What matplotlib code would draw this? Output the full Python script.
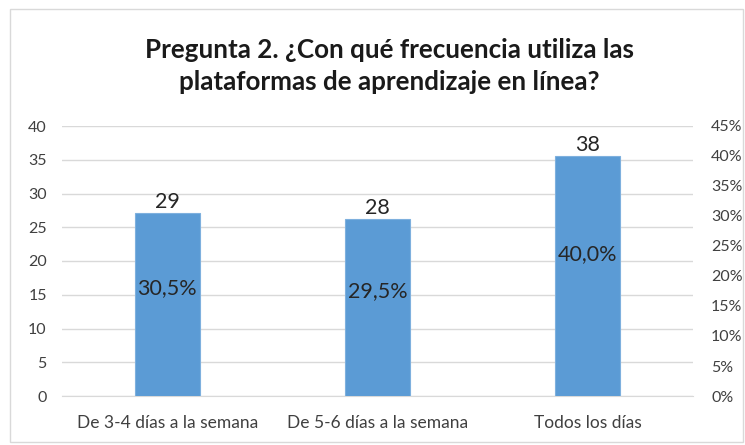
import numpy as np
import matplotlib.pyplot as plt

# datos
categorias = ["De 3-4 días a la semana", "De 5-6 días a la semana", "Todos los días"]
conteos = [29, 28, 38]
porcentajes = [30.5, 29.5, 40.0]
etiquetas_pct = ["30,5%", "29,5%", "40,0%"]

plt.rcParams['font.family'] = ['Lato', 'DejaVu Sans']

fig = plt.figure(figsize=(7.45, 4.45), dpi=100)
# borde del gráfico
fig.patches.append(plt.Rectangle((10 / 745, 3 / 445), 733 / 745, 433 / 445,
                                 transform=fig.transFigure, fill=False,
                                 edgecolor="#D9D9D9", linewidth=1))

ax = fig.add_axes([62 / 745, 49 / 445, 631 / 745, 270 / 445])
ax2 = ax.twinx()

x = np.arange(len(categorias))
ax2.bar(x, porcentajes, width=0.31, color="#5B9BD5", edgecolor="#7EB0DE",
        linewidth=0.8, zorder=3)

ax.set_ylim(0, 40)
ax.set_yticks(np.arange(0, 41, 5))
ax2.set_ylim(0, 45)
ax2.set_yticks(np.arange(0, 46, 5))
ax2.set_yticklabels([f"{v}%" for v in range(0, 46, 5)])
ax.set_xlim(-0.5, 2.5)
ax.set_xticks(x)
ax.set_xticklabels(categorias)

ax.grid(axis="y", color="#D9D9D9", linewidth=1)
ax.set_axisbelow(True)
for a in (ax, ax2):
    for s in a.spines.values():
        s.set_visible(False)
    a.tick_params(length=0, labelsize=11.5, colors="#404040")
ax.tick_params(axis="y", pad=11)
ax2.tick_params(axis="y", pad=13)
ax.tick_params(axis="x", pad=14, labelsize=12.5)
ax.spines["bottom"].set_visible(True)
ax.spines["bottom"].set_color("#D9D9D9")

for xi, c, p, lbl in zip(x, conteos, porcentajes, etiquetas_pct):
    ax2.annotate(str(c), (xi, p), xytext=(0, 1), textcoords="offset points",
                 ha="center", va="bottom", fontsize=15.5, color="#262626")
    ax2.text(xi, p * 0.59, lbl, ha="center", va="center", fontsize=15.5,
             color="#262626")

fig.text(389 / 745, 1 - 66 / 445,
         "Pregunta 2. ¿Con qué frecuencia utiliza las\nplataformas de aprendizaje en línea?",
         ha="center", va="center", fontsize=18.7, fontweight="bold",
         color="#1A1A1A", linespacing=1.4)

fig.savefig("out.png", dpi=100)
